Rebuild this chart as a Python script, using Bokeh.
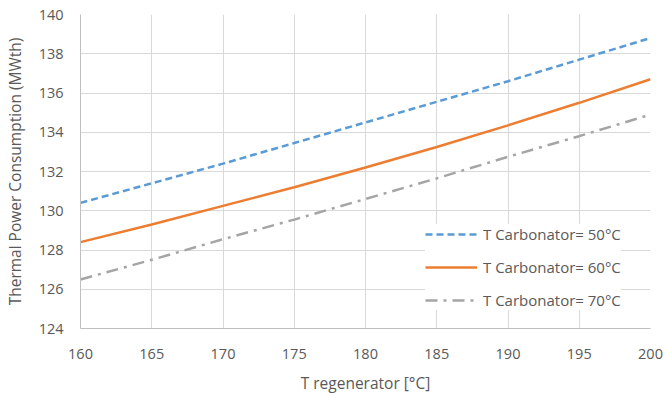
from bokeh.plotting import figure
from bokeh.models import Range1d, FixedTicker, Legend, LegendItem
from bokeh.embed import file_html
from bokeh.resources import INLINE

t_regen = [160, 165, 170, 175, 180, 185, 190, 195, 200]
q_50 = [130.4, 131.4, 132.4, 133.45, 134.5, 135.55, 136.6, 137.7, 138.8]
q_60 = [128.4, 129.3, 130.25, 131.2, 132.2, 133.25, 134.35, 135.5, 136.7]
q_70 = [126.5, 127.5, 128.55, 129.55, 130.6, 131.65, 132.75, 133.8, 134.9]
labels = ["T Carbonator= 50°C", "T Carbonator= 60°C", "T Carbonator= 70°C"]

FONT = "Open Sans"
TXT = "#595959"

p = figure(width=664, height=396, output_backend="svg", toolbar_location=None,
           x_range=Range1d(160, 200), y_range=Range1d(124, 140),
           min_border_left=14, min_border_right=14, min_border_top=14, min_border_bottom=4)
p.outline_line_color = None
p.background_fill_color = "white"
p.border_fill_color = "white"

for ax in (p.xaxis[0], p.yaxis[0]):
    ax.axis_line_color = "#BFBFBF"
    ax.major_tick_line_color = None
    ax.minor_tick_line_color = None
    ax.major_label_text_font = FONT
    ax.major_label_text_font_size = "14.5px"
    ax.major_label_text_color = TXT
    ax.axis_label_text_font = FONT
    ax.axis_label_text_font_size = "15.5px"
    ax.axis_label_text_color = TXT
    ax.axis_label_text_font_style = "normal"

p.xaxis.ticker = FixedTicker(ticks=list(range(160, 201, 5)))
p.yaxis.ticker = FixedTicker(ticks=list(range(124, 141, 2)))
p.xaxis.axis_label = "T regenerator [°C]"
p.yaxis.axis_label = "Thermal Power Consumption (MWth)"
p.xaxis.major_label_standoff = 14
p.yaxis.major_label_standoff = 11
p.xaxis.axis_label_standoff = 10
p.yaxis.axis_label_standoff = 10

p.xgrid.grid_line_color = "#D9D9D9"
p.ygrid.grid_line_color = "#D9D9D9"

r1 = p.line(t_regen, q_50, line_color="#5B9BD5", line_width=2.5, line_dash="7 4")
r2 = p.line(t_regen, q_60, line_color="#ED7D31", line_width=2.5)
r3 = p.line(t_regen, q_70, line_color="#A5A5A5", line_width=2.5, line_dash="12 6 3 6")

legend = Legend(items=[LegendItem(label=labels[0], renderers=[r1]),
                       LegendItem(label=labels[1], renderers=[r2]),
                       LegendItem(label=labels[2], renderers=[r3])],
                location=(345, 18))
legend.border_line_color = None
legend.background_fill_color = "white"
legend.background_fill_alpha = 1.0
legend.label_text_font = FONT
legend.label_text_font_size = "15px"
legend.label_text_color = TXT
legend.glyph_width = 52
legend.spacing = 13
legend.padding = 8
legend.margin = 0
legend.label_standoff = 6
p.add_layout(legend, "center")

open("out.html", "w").write(file_html(p, INLINE))
